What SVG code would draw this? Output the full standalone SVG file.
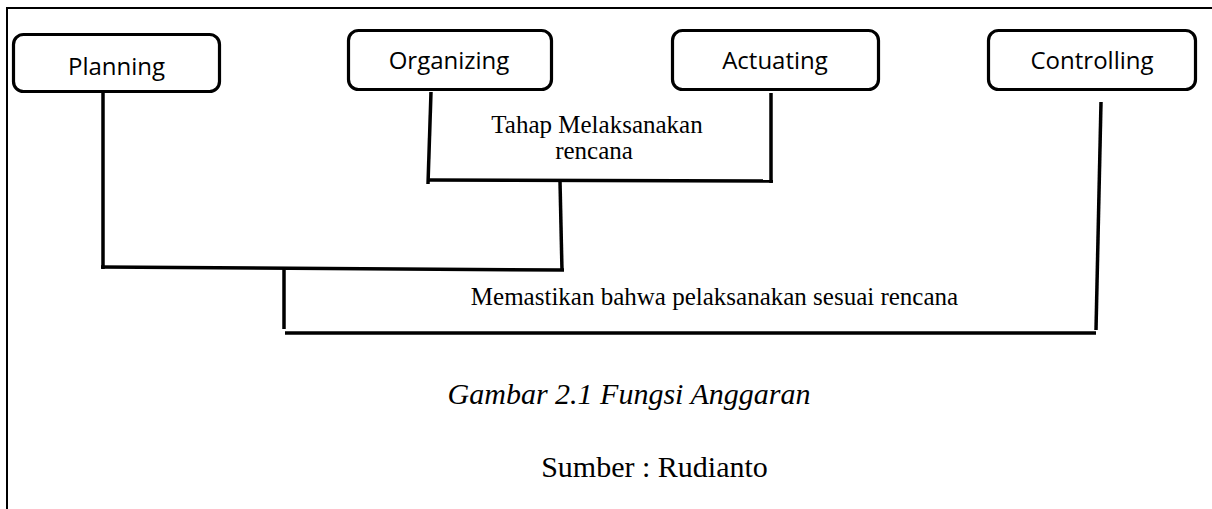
<svg xmlns="http://www.w3.org/2000/svg" width="1212" height="509" viewBox="0 0 1212 509">
<style>
.box{fill:#fff;stroke:#000;stroke-width:3.2}
.lbl{font-family:"Open Sans","Liberation Sans",sans-serif;font-size:24px;fill:#000;text-anchor:middle}
.ser{font-family:"Liberation Serif","Times New Roman",serif;fill:#000;text-anchor:middle}
.con line{stroke:#000;stroke-width:3.5;stroke-linecap:butt}
.frame{stroke:#000;stroke-width:2;fill:none}
</style>
<rect width="1212" height="509" fill="#fff"/>
<g id="frame"><path class="frame" d="M7,509 V8 H1212"/></g>
<g id="connectors" class="con">
<line x1="103" y1="92" x2="103" y2="269"/>
<line x1="101" y1="267" x2="564" y2="270"/>
<line x1="560" y1="181" x2="562" y2="271"/>
<line x1="431" y1="92" x2="428" y2="184"/>
<line x1="428" y1="180" x2="773" y2="181"/>
<line x1="771" y1="93" x2="771" y2="183"/>
<line x1="284" y1="269" x2="284" y2="329"/>
<line x1="285" y1="333" x2="1096" y2="333"/>
<line x1="1101" y1="102" x2="1096" y2="330"/>
</g>
<g id="planning"><rect class="box" x="13.5" y="34.5" width="206" height="57" rx="10"/><text class="lbl" x="116.5" y="75">Planning</text></g>
<g id="organizing"><rect class="box" x="348.5" y="30.5" width="203" height="59" rx="10"/><text class="lbl" x="449" y="69">Organizing</text></g>
<g id="actuating"><rect class="box" x="672.5" y="30.5" width="206" height="59" rx="10"/><text class="lbl" x="775" y="69">Actuating</text></g>
<g id="controlling"><rect class="box" x="988.5" y="30.5" width="207" height="59" rx="10"/><text class="lbl" x="1092" y="69">Controlling</text></g>
<g id="label-tahap"><text class="ser" font-size="25" x="597" y="133">Tahap Melaksanakan</text><text class="ser" font-size="25" x="594" y="159">rencana</text></g>
<g id="label-memastikan"><text class="ser" font-size="25" x="714.5" y="305">Memastikan bahwa pelaksanakan sesuai rencana</text></g>
<g id="caption"><text class="ser" font-size="30" font-style="italic" x="629" y="404">Gambar 2.1 Fungsi Anggaran</text><text class="ser" font-size="30" x="654.5" y="477">Sumber : Rudianto</text></g>
</svg>
